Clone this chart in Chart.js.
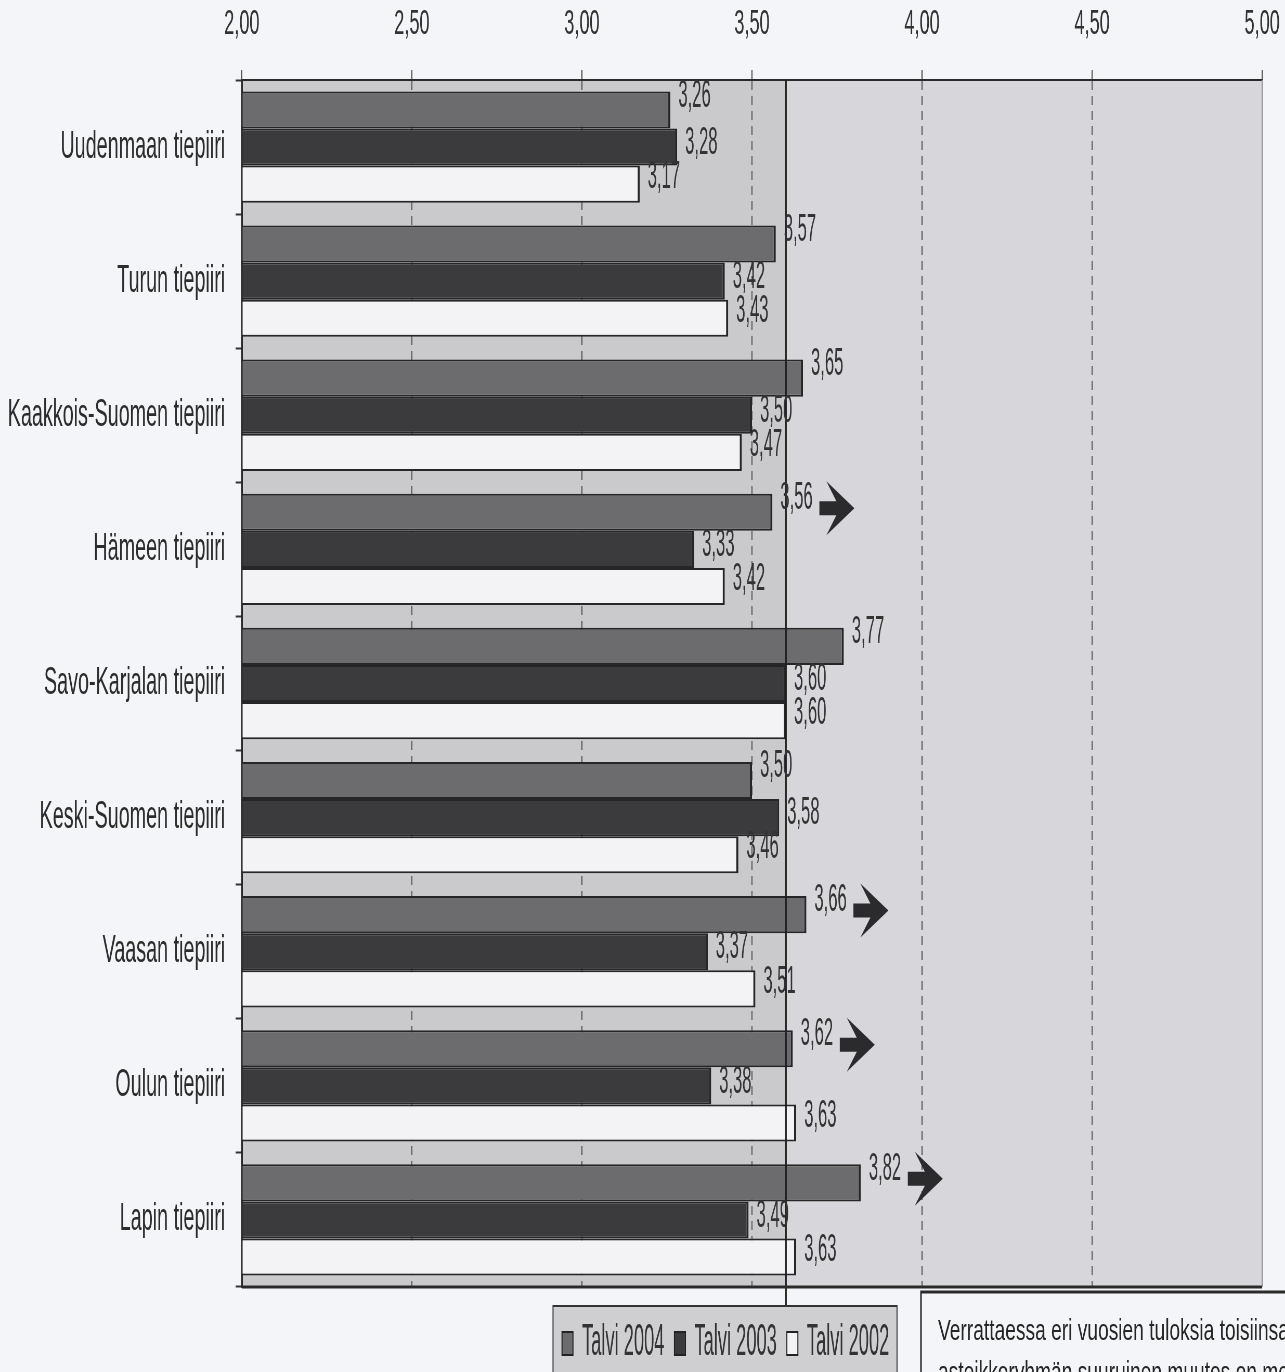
<!DOCTYPE html>
<html>
<head>
<meta charset="utf-8">
<title>Tiepiirit talvi 2002-2004</title>
<script src="https://cdn.jsdelivr.net/npm/chart.js@4.4.0/dist/chart.umd.min.js"></script>
<style>
  html, body { margin: 0; padding: 0; background: #f4f5f8; overflow: hidden; }
  canvas { display: block; }
</style>
</head>
<body>
<canvas id="tieChart" width="2471" height="1372" style="width:1285px;height:1372px"></canvas>
<script>
// the original scan is squeezed sideways, so the canvas is drawn wide and shown narrow
const SQUEEZE = 1285 / 2471;

const districts = [
    'Uudenmaan tiepiiri',
    'Turun tiepiiri',
    'Kaakkois-Suomen tiepiiri',
    'Hämeen tiepiiri',
    'Savo-Karjalan tiepiiri',
    'Keski-Suomen tiepiiri',
    'Vaasan tiepiiri',
    'Oulun tiepiiri',
    'Lapin tiepiiri'
];
const talvi2004 = [3.26, 3.57, 3.65, 3.56, 3.77, 3.50, 3.66, 3.62, 3.82];
const talvi2003 = [3.28, 3.42, 3.50, 3.33, 3.60, 3.58, 3.37, 3.38, 3.49];
const talvi2002 = [3.17, 3.43, 3.47, 3.42, 3.60, 3.46, 3.51, 3.63, 3.63];
const seriesNames = ['Talvi 2004', 'Talvi 2003', 'Talvi 2002'];
const seriesColors = ['#6c6c6e', '#3b3b3d', '#f3f3f6'];

const xMin = 2.0;
const xMax = 5.0;
const xStep = 0.5;
const referenceValue = 3.60;
// arrows after the Talvi 2004 label
const risingTrend = [false, false, false, true, false, false, true, true, true];
const noteLines = [
    'Verrattaessa eri vuosien tuloksia toisiinsa',
    'asteikkoryhmän suuruinen muutos on merkittävä'
];

// value labels don't sit on the bar centre in the original, each series a bit different
const labelShift = [-14, -4, -7];

function fi(v) {
    return Number(v).toFixed(2).replace('.', ',');
}

// display px -> canvas px along x
function wx(px) {
    return px / SQUEEZE;
}

// text drawn a bit narrower than the font
function narrowText(ctx, text, x, y, sx) {
    ctx.save();
    ctx.translate(x, y);
    ctx.scale(sx, 1);
    ctx.fillText(text, 0, 0);
    ctx.restore();
    return ctx.measureText(text).width * sx;
}

const plotBackground = {
    id: 'plotBackground',
    beforeDraw(chart) {
        const { ctx, chartArea: a, scales: { x } } = chart;
        const xr = x.getPixelForValue(referenceValue);
        ctx.save();
        ctx.fillStyle = '#f4f5f8';
        ctx.fillRect(0, 0, chart.width, chart.height);
        ctx.fillStyle = '#cacacd';
        ctx.fillRect(a.left, a.top, xr - a.left, a.bottom - a.top);
        ctx.fillStyle = '#d7d7db';
        ctx.fillRect(xr, a.top, a.right - xr, a.bottom - a.top);
        ctx.restore();
    }
};

const barNotes = {
    id: 'barNotes',
    afterDatasetsDraw(chart) {
        const { ctx, chartArea: a, scales: { x } } = chart;
        ctx.save();

        // reference line at 3,60, runs down to the legend
        const xr = x.getPixelForValue(referenceValue);
        ctx.strokeStyle = '#1f1f1f';
        ctx.lineWidth = 3;
        ctx.beginPath();
        ctx.moveTo(xr, a.top);
        ctx.lineTo(xr, 1306);
        ctx.stroke();

        // frame
        ctx.strokeStyle = '#8a8a8e';
        ctx.lineWidth = 2;
        ctx.beginPath();
        ctx.moveTo(a.right, a.top);
        ctx.lineTo(a.right, a.bottom);
        ctx.stroke();
        ctx.strokeStyle = '#2a2a2a';
        ctx.lineWidth = 3;
        ctx.beginPath();
        ctx.moveTo(a.left, a.bottom);
        ctx.lineTo(a.right, a.bottom);
        ctx.moveTo(a.left, a.top);
        ctx.lineTo(a.left, a.bottom);
        ctx.stroke();

        // value labels
        ctx.font = "39px 'Liberation Sans', Arial, sans-serif";
        ctx.fillStyle = '#333';
        ctx.textAlign = 'left';
        ctx.textBaseline = 'middle';
        chart.data.datasets.forEach((ds, d) => {
            const meta = chart.getDatasetMeta(d);
            meta.data.forEach((bar, i) => {
                narrowText(ctx, fi(ds.data[i]), bar.x + wx(8), bar.y + labelShift[d], 0.82);
            });
        });

        // trend arrows
        const top = chart.getDatasetMeta(0);
        const shape = [[0, -7], [17, -7], [7, -27], [35, 0], [7, 27], [17, 7], [0, 7]];
        ctx.fillStyle = '#2b2b2d';
        top.data.forEach((bar, i) => {
            if (!risingTrend[i]) return;
            const x0 = bar.x + wx(47);
            const yc = bar.y - 4;
            ctx.beginPath();
            shape.forEach(([dx, dy], k) => {
                if (k === 0) ctx.moveTo(x0 + wx(dx), yc + dy);
                else ctx.lineTo(x0 + wx(dx), yc + dy);
            });
            ctx.closePath();
            ctx.fill();
        });
        ctx.restore();
    },
    afterDraw(chart) {
        const ctx = chart.ctx;
        ctx.save();

        // legend box
        const lx = wx(553), lr = wx(897), ly = 1306;
        ctx.fillStyle = '#cfcfd2';
        ctx.fillRect(lx, ly, lr - lx, 80);
        ctx.strokeStyle = '#333';
        ctx.lineWidth = 2;
        ctx.strokeRect(lx, ly, lr - lx, 80);

        ctx.font = "44px 'Liberation Sans', Arial, sans-serif";
        ctx.textBaseline = 'alphabetic';
        ctx.textAlign = 'left';
        let px = wx(562);
        chart.data.datasets.forEach((ds) => {
            ctx.fillStyle = ds.backgroundColor;
            ctx.fillRect(px, 1332, wx(11), 23);
            ctx.strokeStyle = '#222';
            ctx.lineWidth = 2;
            ctx.strokeRect(px, 1332, wx(11), 23);
            px += wx(11) + wx(9);
            ctx.fillStyle = '#333';
            px += narrowText(ctx, ds.label, px, 1355, 0.8);
            px += wx(10);
        });

        // note box, right of the legend
        const nx = wx(921), ny = 1292;
        ctx.strokeStyle = '#2a2a2a';
        ctx.lineWidth = 3;
        ctx.beginPath();
        ctx.moveTo(nx, chart.height);
        ctx.lineTo(nx, ny);
        ctx.lineTo(chart.width, ny);
        ctx.stroke();

        ctx.font = "30px 'Liberation Sans', Arial, sans-serif";
        ctx.fillStyle = '#262626';
        narrowText(ctx, noteLines[0], wx(938), 1340, 1.23);
        narrowText(ctx, noteLines[1], wx(938), 1382, 1.23);
        ctx.restore();
    }
};

Chart.defaults.font.family = "'Liberation Sans', Arial, sans-serif";
Chart.defaults.color = '#333';

const ctx = document.getElementById('tieChart').getContext('2d');
const yearData = [talvi2004, talvi2003, talvi2002];

new Chart(ctx, {
    type: 'bar',
    data: {
        labels: districts,
        datasets: seriesNames.map((name, k) => ({
            label: name,
            data: yearData[k],
            backgroundColor: seriesColors[k],
            borderColor: '#262626',
            borderWidth: { top: 2, bottom: 2, right: 4, left: 0 },
            categoryPercentage: 0.83,
            barPercentage: 1.0
        }))
    },
    options: {
        indexAxis: 'y',
        responsive: false,
        devicePixelRatio: 1,
        animation: false,
        layout: { padding: { top: 0, right: 44, bottom: 85, left: 0 } },
        plugins: {
            legend: { display: false },
            tooltip: { enabled: false }
        },
        scales: {
            x: {
                position: 'top',
                min: xMin,
                max: xMax,
                ticks: {
                    stepSize: xStep,
                    padding: 25,
                    font: { size: 35 },
                    color: '#333',
                    callback: (v) => fi(v)
                },
                grid: {
                    color: '#505054',
                    lineWidth: 2,
                    tickLength: 10,
                    tickColor: '#444',
                    tickWidth: 2
                },
                border: { color: '#2a2a2a', width: 2, dash: [9, 6] },
                afterFit(scale) {
                    scale.height = 80;
                    scale.paddingLeft = 0;
                    scale.paddingRight = 0;
                }
            },
            y: {
                ticks: { font: { size: 38 }, color: '#2d2d2d', padding: 20 },
                grid: {
                    drawOnChartArea: false,
                    offset: true,
                    tickLength: 12,
                    tickColor: '#333',
                    tickWidth: 2
                },
                border: { color: '#2a2a2a', width: 3 },
                afterFit(scale) { scale.width = 465; }
            }
        }
    },
    plugins: [plotBackground, barNotes]
});
</script>
</body>
</html>
